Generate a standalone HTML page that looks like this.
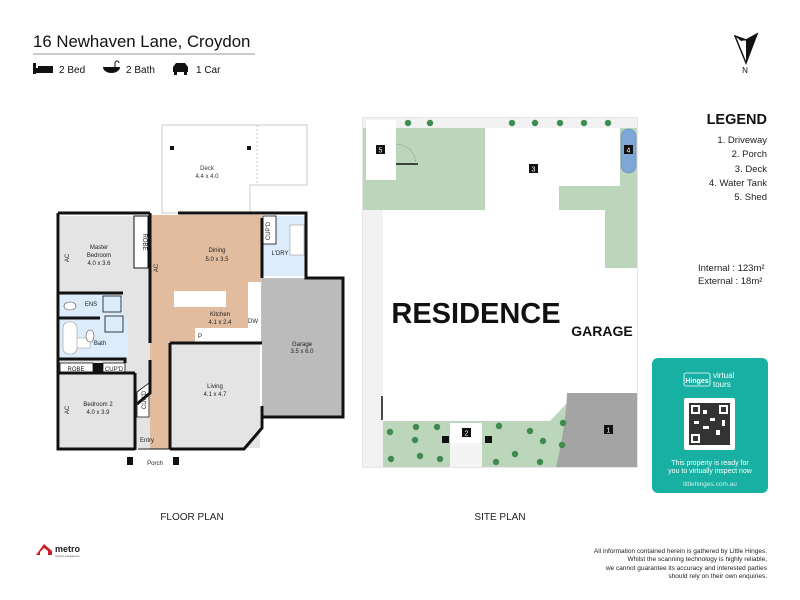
<!DOCTYPE html>
<html><head><meta charset="utf-8"><style>
html,body{margin:0;padding:0;background:#fff;width:800px;height:600px;overflow:hidden}
svg{display:block}
text{font-family:"Liberation Sans",Arial,sans-serif}
</style></head><body>
<svg width="800" height="600" viewBox="0 0 800 600" xmlns="http://www.w3.org/2000/svg">
<!-- Header -->
<text x="33" y="47" font-size="16.8" fill="#111">16 Newhaven Lane, Croydon</text>
<line x1="33" y1="54" x2="255" y2="54" stroke="#aaa" stroke-width="1.2"/>
<rect x="33" y="63" width="3" height="11" fill="#111"/><rect x="33" y="68" width="20" height="5" fill="#111"/><rect x="38" y="66" width="15" height="3" fill="#111"/>
<text x="59" y="73" font-size="10" fill="#111">2 Bed</text>
<path d="M103 67 h17 a8.5 6 0 0 1 -17 0z" fill="#111"/><path d="M115 67 v-4 a2 2 0 0 1 4 0" stroke="#111" fill="none"/>
<text x="126" y="73" font-size="10" fill="#111">2 Bath</text>
<path d="M173 72 v-5 l3 -4 h9 l3 4 v5z" fill="#111"/><rect x="174" y="72" width="3" height="3" fill="#111"/><rect x="184" y="72" width="3" height="3" fill="#111"/>
<text x="196" y="73" font-size="10" fill="#111">1 Car</text>
<!-- North -->
<path d="M735 36 L746 63 L757 34 L746 40 Z" fill="#fff" stroke="#111" stroke-width="1.5"/><path d="M746 40 L757 34 L746 63 Z" fill="#111"/><path d="M735 36 L746 40 L741 41Z" fill="#111"/>
<text x="745" y="73" font-size="8" text-anchor="middle" fill="#111">N</text>

<!-- FLOOR PLAN -->
<path d="M162 125 H307 V185 H250 V213 H162 Z" fill="#fff" stroke="#bbb" stroke-width="0.8"/>
<line x1="257" y1="125" x2="257" y2="185" stroke="#bbb" stroke-dasharray="2,2" stroke-width="0.8"/>
<rect x="170" y="146" width="4" height="4" fill="#111"/><rect x="247" y="146" width="4" height="4" fill="#111"/>
<text x="207" y="170" font-size="6" text-anchor="middle" fill="#333">Deck</text>
<text x="207" y="178" font-size="6" text-anchor="middle" fill="#333">4.4 x 4.0</text>
<!-- floors -->
<rect x="60" y="216" width="200" height="232" fill="#e4e4e4"/>
<rect x="150" y="215" width="112" height="128" fill="#e2bc9e"/>
<rect x="150" y="343" width="20" height="106" fill="#e2bc9e"/>
<rect x="262" y="216" width="44" height="60" fill="#dcecfa"/>
<rect x="60" y="295" width="63" height="23" fill="#dcecfa"/>
<rect x="60" y="318" width="68" height="40" fill="#dcecfa"/>
<rect x="134" y="216" width="14" height="52" fill="#fff" stroke="#111" stroke-width="1"/>
<rect x="60" y="363" width="33" height="10" fill="#fff" stroke="#111" stroke-width="0.8"/>
<rect x="93" y="363" width="10" height="10" fill="#111"/>
<rect x="103" y="363" width="22" height="10" fill="#fff" stroke="#111" stroke-width="0.8"/>
<rect x="263" y="216" width="13" height="28" fill="#fff" stroke="#111" stroke-width="0.8"/>
<rect x="290" y="225" width="14" height="30" fill="#fff" stroke="#999" stroke-width="0.6"/>
<rect x="174" y="291" width="52" height="16" fill="#fff"/>
<rect x="248" y="282" width="13" height="46" fill="#fff"/>
<rect x="195" y="328" width="66" height="14" fill="#fff"/>
<rect x="68" y="338" width="22" height="10" fill="#fff" stroke="#999" stroke-width="0.5"/>
<rect x="63" y="322" width="14" height="32" rx="6" fill="#fff" stroke="#999" stroke-width="0.6"/>
<rect x="105" y="316" width="18" height="16" fill="#dcecfa" stroke="#111" stroke-width="0.8"/>
<rect x="103" y="296" width="18" height="16" fill="#dcecfa" stroke="#111" stroke-width="0.8"/>
<ellipse cx="70" cy="306" rx="6" ry="4" fill="#fff" stroke="#555" stroke-width="0.6"/>
<ellipse cx="90" cy="336" rx="4" ry="6" fill="#fff" stroke="#555" stroke-width="0.6"/>
<path d="M137 392 L149 383 V417 H137 Z" fill="#fff" stroke="#111" stroke-width="0.8"/>
<!-- garage -->
<rect x="262" y="278" width="81" height="139" fill="#bbb"/>
<!-- walls -->
<g stroke="#111" stroke-width="3" fill="none">
<path d="M58 213 H150 M150 213 V215 M178 213 H262 V214 M262 213 H306 V278 H343 V417 H262 V406"/>
<path d="M58 213 V449 H135 M135 420 V449"/>
<path d="M170 449 H244 L262 428 V406"/>
<path d="M150 213 V343 M150 360 V393 L137 404 M170 343 V449 M170 343 H262 M262 218 V278"/>
<path d="M58 293 H123 M58 318 H100 M58 359 H125 V363 M135 373 V450 M58 373 H135"/>
</g>
<path d="M138 449 H170" stroke="#111" stroke-width="1"/>
<rect x="127" y="457" width="6" height="8" fill="#111"/><rect x="173" y="457" width="6" height="8" fill="#111"/>
<g font-size="6" fill="#222" text-anchor="middle">
<text x="99" y="249">Master</text><text x="99" y="257">Bedroom</text><text x="99" y="265">4.0 x 3.6</text>
<text x="217" y="252">Dining</text><text x="217" y="261">5.0 x 3.5</text>
<text x="220" y="316">Kitchen</text><text x="220" y="324">4.1 x 2.4</text>
<text x="302" y="346">Garage</text><text x="302" y="353">3.5 x 6.0</text>
<text x="215" y="388">Living</text><text x="215" y="396">4.1 x 4.7</text>
<text x="98" y="406">Bedroom 2</text><text x="98" y="414">4.0 x 3.9</text>
<text x="280" y="255">L'DRY</text>
<text x="91" y="306">ENS</text><text x="100" y="345">Bath</text>
<text x="76" y="371">ROBE</text><text x="114" y="371">CUP'D</text>
<text x="147" y="442">Entry</text><text x="155" y="465">Porch</text>
<text x="253" y="323">DW</text><text x="200" y="338">P</text>
</g>
<g font-size="6" fill="#222" text-anchor="middle">
<text transform="translate(143,242) rotate(90)">ROBE</text>
<text transform="translate(270,231) rotate(-90)">CUP'D</text>
<text transform="translate(146,400) rotate(-90)">CUP'D</text>
<text transform="translate(69,258) rotate(-90)">AC</text>
<text transform="translate(69,410) rotate(-90)">AC</text>
<text transform="translate(158,268) rotate(-90)">AC</text>
</g>
<text x="192" y="520" font-size="10" text-anchor="middle" fill="#222">FLOOR PLAN</text>

<!-- SITE PLAN -->
<rect x="363" y="118" width="274" height="349" fill="#bcd6bc" stroke="#ccc" stroke-width="1"/>
<rect x="363" y="118" width="274" height="10" fill="#f2f2f2"/>
<rect x="363" y="210" width="20" height="257" fill="#f2f2f2"/>
<rect x="366" y="120" width="30" height="60" fill="#fff"/>
<path d="M396 164 H418" stroke="#111" stroke-width="1.5"/><path d="M396 144 A20 20 0 0 1 416 164" stroke="#777" stroke-dasharray="1.5,1.5" fill="none" stroke-width="0.6"/>
<path d="M485 128 H620 V186 H559 V210 H485 Z" fill="#fff"/>
<rect x="621" y="129" width="15" height="44" rx="7" fill="#7ea7d8" stroke="#5a85bb" stroke-width="0.5"/>
<path d="M383 210 H605 V268 H567 V403 L550 421 H383 Z" fill="#fff"/>
<rect x="567" y="268" width="70" height="125" fill="#fff"/>
<path d="M567 393 H637 V467 H556 Q566 425 567 393 Z" fill="#a4a4a4"/>
<rect x="450" y="423" width="32" height="44" fill="#f4f4f4"/><rect x="450" y="423" width="32" height="20" fill="#fff"/>
<rect x="442" y="436" width="7" height="7" fill="#111"/><rect x="485" y="436" width="7" height="7" fill="#111"/>
<path d="M382 396 V420" stroke="#111" stroke-width="1.5"/>
<g fill="#3f8a4f">
<circle cx="408" cy="123" r="3.2"/><circle cx="430" cy="123" r="3.2"/><circle cx="512" cy="123" r="3.2"/><circle cx="535" cy="123" r="3.2"/><circle cx="560" cy="123" r="3.2"/><circle cx="584" cy="123" r="3.2"/><circle cx="608" cy="123" r="3.2"/>
<circle cx="390" cy="432" r="3.2"/><circle cx="416" cy="427" r="3.2"/><circle cx="415" cy="440" r="3.2"/><circle cx="437" cy="427" r="3.2"/><circle cx="391" cy="459" r="3.2"/><circle cx="420" cy="456" r="3.2"/><circle cx="440" cy="459" r="3.2"/>
<circle cx="499" cy="426" r="3.2"/><circle cx="530" cy="431" r="3.2"/><circle cx="543" cy="441" r="3.2"/><circle cx="563" cy="423" r="3.2"/><circle cx="562" cy="445" r="3.2"/><circle cx="496" cy="462" r="3.2"/><circle cx="515" cy="454" r="3.2"/><circle cx="540" cy="462" r="3.2"/>
</g>
<g font-size="7" fill="#fff" text-anchor="middle">
<rect x="376" y="145" width="9" height="9" fill="#111"/><text x="380.5" y="152.5">5</text>
<rect x="529" y="164" width="9" height="9" fill="#111"/><text x="533.5" y="171.5">3</text>
<rect x="624" y="145" width="9" height="9" fill="#111"/><text x="628.5" y="152.5">4</text>
<rect x="462" y="428" width="9" height="9" fill="#111"/><text x="466.5" y="435.5">2</text>
<rect x="604" y="425" width="9" height="9" fill="#111"/><text x="608.5" y="432.5">1</text>
</g>
<text x="476" y="323" font-size="29" font-weight="bold" text-anchor="middle" fill="#111">RESIDENCE</text>
<text x="602" y="336" font-size="14" font-weight="bold" text-anchor="middle" fill="#111">GARAGE</text>
<text x="500" y="520" font-size="10" text-anchor="middle" fill="#222">SITE PLAN</text>

<!-- Legend -->
<text x="767" y="124" font-size="14.5" font-weight="bold" text-anchor="end" fill="#111">LEGEND</text>
<g font-size="9.5" text-anchor="end" fill="#222">
<text x="767" y="143">1. Driveway</text><text x="767" y="157">2. Porch</text><text x="767" y="172">3. Deck</text><text x="767" y="186">4. Water Tank</text><text x="767" y="200">5. Shed</text>
</g>
<text x="698" y="271" font-size="9.5" fill="#222">Internal  : 123m²</text>
<text x="698" y="284" font-size="9.5" fill="#222">External :   18m²</text>
<!-- card -->
<rect x="652" y="358" width="116" height="135" rx="6" fill="#17b0a3"/>
<rect x="684" y="373" width="26" height="13" rx="2" fill="none" stroke="#fff" stroke-width="0.8"/>
<text x="697" y="383" font-size="7" text-anchor="middle" fill="#fff" font-weight="bold">Hinges</text>
<text x="713" y="378" font-size="8" fill="#fff">virtual</text><text x="713" y="387" font-size="8" fill="#fff">tours</text>
<rect x="684" y="398" width="51" height="52" rx="2" fill="#fff"/>
<rect x="689" y="403" width="41" height="42" fill="#333"/>
<g fill="#fff"><rect x="691" y="405" width="9" height="9"/><rect x="719" y="405" width="9" height="9"/><rect x="691" y="434" width="9" height="9"/><rect x="703" y="410" width="4" height="4"/><rect x="710" y="418" width="5" height="3"/><rect x="703" y="426" width="6" height="3"/><rect x="716" y="430" width="4" height="5"/><rect x="722" y="420" width="3" height="6"/><rect x="694" y="421" width="5" height="3"/></g>
<g fill="#333"><rect x="693" y="407" width="5" height="5"/><rect x="721" y="407" width="5" height="5"/><rect x="693" y="436" width="5" height="5"/></g>
<text x="710" y="465" font-size="7" text-anchor="middle" fill="#fff">This property is ready for</text>
<text x="710" y="473" font-size="7" text-anchor="middle" fill="#fff">you to virtually inspect now</text>
<text x="710" y="486" font-size="6.5" text-anchor="middle" fill="#d4f0ec">littlehinges.com.au</text>

<!-- footer -->
<path d="M36 555 L44 544 L52 551 V555 H48 V551 L44 548 L40 552 V555Z" fill="#c8202a"/>
<text x="55" y="552" font-size="9" font-weight="bold" fill="#222">metro</text>
<text x="55" y="557" font-size="2.5" fill="#555">property management</text>
<g font-size="6.5" text-anchor="end" fill="#222">
<text x="767" y="553">All information contained herein is gathered by Little Hinges.</text>
<text x="767" y="561">Whilst the scanning technology is highly reliable,</text>
<text x="767" y="570">we cannot guarantee its accuracy and interested parties</text>
<text x="767" y="578">should rely on their own enquiries.</text>
</g>
</svg>
</body></html>
